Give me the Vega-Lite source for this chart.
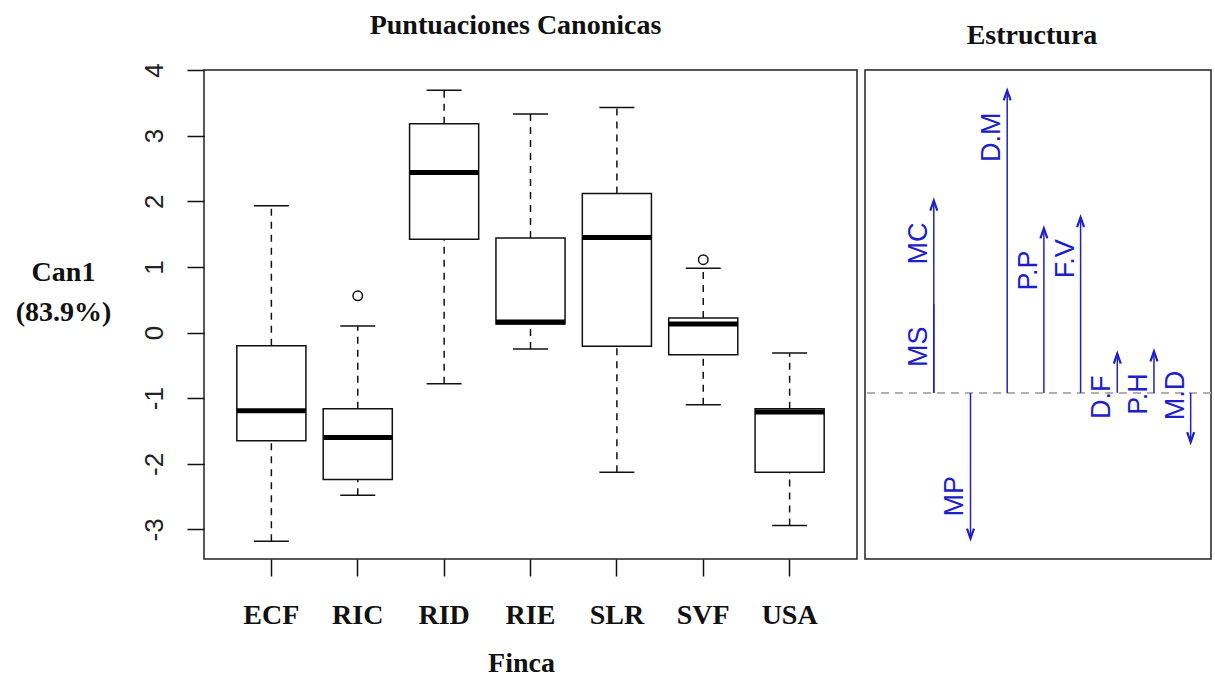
{
  "$schema": "https://vega.github.io/schema/vega-lite/v6.json",
  "background": "white",
  "padding": {"left": 14, "top": 11, "right": 0, "bottom": 0},
  "spacing": 5,
  "config": {
    "view": {"stroke": "#222", "strokeWidth": 1.5},
    "axis": {"grid": false}
  },
  "datasets": {
    "boxes": [
      {"finca": "ECF", "lower": -3.18, "q1": -1.65, "median": -1.19, "q3": -0.20, "upper": 1.93},
      {"finca": "RIC", "lower": -2.48, "q1": -2.24, "median": -1.60, "q3": -1.16, "upper": 0.10},
      {"finca": "RID", "lower": -0.78, "q1": 1.42, "median": 2.44, "q3": 3.18, "upper": 3.69},
      {"finca": "RIE", "lower": -0.25, "q1": 0.13, "median": 0.16, "q3": 1.44, "upper": 3.33},
      {"finca": "SLR", "lower": -2.13, "q1": -0.21, "median": 1.45, "q3": 2.12, "upper": 3.43},
      {"finca": "SVF", "lower": -1.10, "q1": -0.34, "median": 0.13, "q3": 0.22, "upper": 0.98},
      {"finca": "USA", "lower": -2.94, "q1": -2.13, "median": -1.21, "q3": -1.16, "upper": -0.31}
    ],
    "outliers": [
      {"finca": "RIC", "value": 0.56},
      {"finca": "SVF", "value": 1.11}
    ],
    "loads": [
      {"var": "MS", "idx": 1, "load": 0.276},
      {"var": "MC", "idx": 1, "load": 0.601},
      {"var": "MP", "idx": 2, "load": -0.455},
      {"var": "D.M", "idx": 3, "load": 0.945},
      {"var": "P.P", "idx": 4, "load": 0.514},
      {"var": "F.V", "idx": 5, "load": 0.549},
      {"var": "D.F", "idx": 6, "load": 0.123},
      {"var": "P.H", "idx": 7, "load": 0.130},
      {"var": "M.D", "idx": 8, "load": -0.154}
    ]
  },
  "hconcat": [
    {
      "width": 653,
      "height": 489,
      "title": {"text": "Puntuaciones Canonicas", "font": "Liberation Serif", "fontSize": 28, "fontWeight": "bold", "color": "#111", "baseline": "alphabetic", "offset": 1, "dx": -15},
      "data": {"name": "boxes"},
      "layer": [
        {
          "mark": {"type": "bar", "fill": "white", "stroke": "#111", "strokeWidth": 1.5},
          "encoding": {
            "x": {
              "field": "finca", "type": "nominal",
              "scale": {"paddingInner": 0.2, "paddingOuter": 0.38},
              "axis": {
                "title": "Finca", "titleFont": "Liberation Serif", "titleFontSize": 28, "titleFontWeight": "bold", "titleColor": "#111",
                "titleX": 317, "titleY": 112, "titleAlign": "center", "titleBaseline": "alphabetic",
                "labelAngle": 0, "labelFont": "Liberation Serif", "labelFontSize": 28, "labelFontWeight": "bold", "labelColor": "#111",
                "labelBaseline": "alphabetic", "labelPadding": 47, "labelOverlap": false,
                "domain": false, "tickSize": 17, "tickWidth": 1.5, "tickColor": "#111"
              }
            },
            "y": {
              "field": "q1", "type": "quantitative",
              "scale": {"domain": [-3.45, 4.0], "nice": false, "zero": false},
              "axis": {
                "title": ["Can1", "(83.9%)"], "titleFont": "Liberation Serif", "titleFontSize": 28, "titleFontWeight": "bold", "titleColor": "#111",
                "titleAngle": 0, "titleAlign": "center", "titleBaseline": "alphabetic", "titleX": -141, "titleY": 210, "titleLineHeight": 40,
                "values": [-3, -2, -1, 0, 1, 2, 3, 4],
                "labelExpr": "datum.value < 0 ? '-' + abs(datum.value) : '' + datum.value",
                "labelAngle": -90, "labelAlign": "center", "labelBaseline": "alphabetic", "labelPadding": 25,
                "labelFont": "Liberation Sans", "labelFontSize": 26, "labelColor": "#222", "labelOverlap": false, "labelBound": false, "labelFlush": false,
                "domain": false, "tickSize": 17, "tickWidth": 1.5, "tickColor": "#111"
              }
            },
            "y2": {"field": "q3"}
          }
        },
        {
          "mark": {"type": "rule", "stroke": "#111", "strokeWidth": 1.5, "strokeDash": [7, 6]},
          "encoding": {
            "x": {"field": "finca", "type": "nominal", "scale": {"paddingInner": 0.2, "paddingOuter": 0.38}},
            "y": {"field": "q3", "type": "quantitative", "scale": {"domain": [-3.45, 4.0], "nice": false, "zero": false}},
            "y2": {"field": "upper"}
          }
        },
        {
          "mark": {"type": "rule", "stroke": "#111", "strokeWidth": 1.5, "strokeDash": [7, 6]},
          "encoding": {
            "x": {"field": "finca", "type": "nominal", "scale": {"paddingInner": 0.2, "paddingOuter": 0.38}},
            "y": {"field": "lower", "type": "quantitative", "scale": {"domain": [-3.45, 4.0], "nice": false, "zero": false}},
            "y2": {"field": "q1"}
          }
        },
        {
          "mark": {"type": "tick", "color": "#111", "opacity": 1, "size": 35, "thickness": 1.5},
          "encoding": {
            "x": {"field": "finca", "type": "nominal", "scale": {"paddingInner": 0.2, "paddingOuter": 0.38}},
            "y": {"field": "upper", "type": "quantitative", "scale": {"domain": [-3.45, 4.0], "nice": false, "zero": false}}
          }
        },
        {
          "mark": {"type": "tick", "color": "#111", "opacity": 1, "size": 35, "thickness": 1.5},
          "encoding": {
            "x": {"field": "finca", "type": "nominal", "scale": {"paddingInner": 0.2, "paddingOuter": 0.38}},
            "y": {"field": "lower", "type": "quantitative", "scale": {"domain": [-3.45, 4.0], "nice": false, "zero": false}}
          }
        },
        {
          "mark": {"type": "tick", "color": "#000", "opacity": 1, "size": 69, "thickness": 5},
          "encoding": {
            "x": {"field": "finca", "type": "nominal", "scale": {"paddingInner": 0.2, "paddingOuter": 0.38}},
            "y": {"field": "median", "type": "quantitative", "scale": {"domain": [-3.45, 4.0], "nice": false, "zero": false}}
          }
        },
        {
          "data": {"name": "outliers"},
          "mark": {"type": "point", "shape": "circle", "filled": false, "opacity": 1, "stroke": "#111", "strokeWidth": 1.5, "size": 90},
          "encoding": {
            "x": {"field": "finca", "type": "nominal", "scale": {"paddingInner": 0.2, "paddingOuter": 0.38}},
            "y": {"field": "value", "type": "quantitative", "scale": {"domain": [-3.45, 4.0], "nice": false, "zero": false}}
          }
        }
      ]
    },
    {
      "width": 346,
      "height": 489,
      "title": {"text": "Estructura", "font": "Liberation Serif", "fontSize": 28, "fontWeight": "bold", "color": "#111", "baseline": "alphabetic", "offset": -2, "dx": -6},
      "data": {"name": "loads"},
      "layer": [
        {
          "mark": {"type": "rule", "stroke": "#b0b0b0", "strokeWidth": 1.5, "strokeDash": [8, 6]},
          "encoding": {
            "y": {"datum": 0, "type": "quantitative", "scale": {"domain": [-0.519, 1.009], "nice": false, "zero": false}, "axis": null}
          }
        },
        {
          "mark": {"type": "rule", "stroke": "#2020c8", "strokeWidth": 1.5},
          "encoding": {
            "x": {"field": "idx", "type": "quantitative", "scale": {"domain": [-0.875, 8.554], "nice": false, "zero": false}, "axis": null},
            "y": {"field": "load", "type": "quantitative", "scale": {"domain": [-0.519, 1.009], "nice": false, "zero": false}, "axis": null},
            "y2": {"datum": 0}
          }
        },
        {
          "transform": [{"filter": "datum.var !== 'MS'"}],
          "mark": {"type": "point", "filled": false, "stroke": "#2020c8", "strokeWidth": 2.2, "size": 400, "opacity": 1},
          "encoding": {
            "x": {"field": "idx", "type": "quantitative", "scale": {"domain": [-0.875, 8.554], "nice": false, "zero": false}, "axis": null},
            "y": {"field": "load", "type": "quantitative", "scale": {"domain": [-0.519, 1.009], "nice": false, "zero": false}, "axis": null},
            "shape": {"condition": {"test": "datum.load < 0", "value": "M-0.35,-1L0,0L0.35,-1"}, "value": "M-0.35,1L0,0L0.35,1"}
          }
        },
        {
          "transform": [{"filter": "datum.load >= 0"}],
          "mark": {"type": "text", "angle": 270, "align": "right", "baseline": "alphabetic", "xOffset": -7, "yOffset": 22, "font": "Liberation Sans", "fontSize": 27, "color": "#2020c8"},
          "encoding": {
            "x": {"field": "idx", "type": "quantitative", "scale": {"domain": [-0.875, 8.554], "nice": false, "zero": false}, "axis": null},
            "y": {"field": "load", "type": "quantitative", "scale": {"domain": [-0.519, 1.009], "nice": false, "zero": false}, "axis": null},
            "text": {"field": "var"}
          }
        },
        {
          "transform": [{"filter": "datum.load < 0"}],
          "mark": {"type": "text", "angle": 270, "align": "left", "baseline": "alphabetic", "xOffset": -7, "yOffset": -22, "font": "Liberation Sans", "fontSize": 27, "color": "#2020c8"},
          "encoding": {
            "x": {"field": "idx", "type": "quantitative", "scale": {"domain": [-0.875, 8.554], "nice": false, "zero": false}, "axis": null},
            "y": {"field": "load", "type": "quantitative", "scale": {"domain": [-0.519, 1.009], "nice": false, "zero": false}, "axis": null},
            "text": {"field": "var"}
          }
        }
      ]
    }
  ]
}
